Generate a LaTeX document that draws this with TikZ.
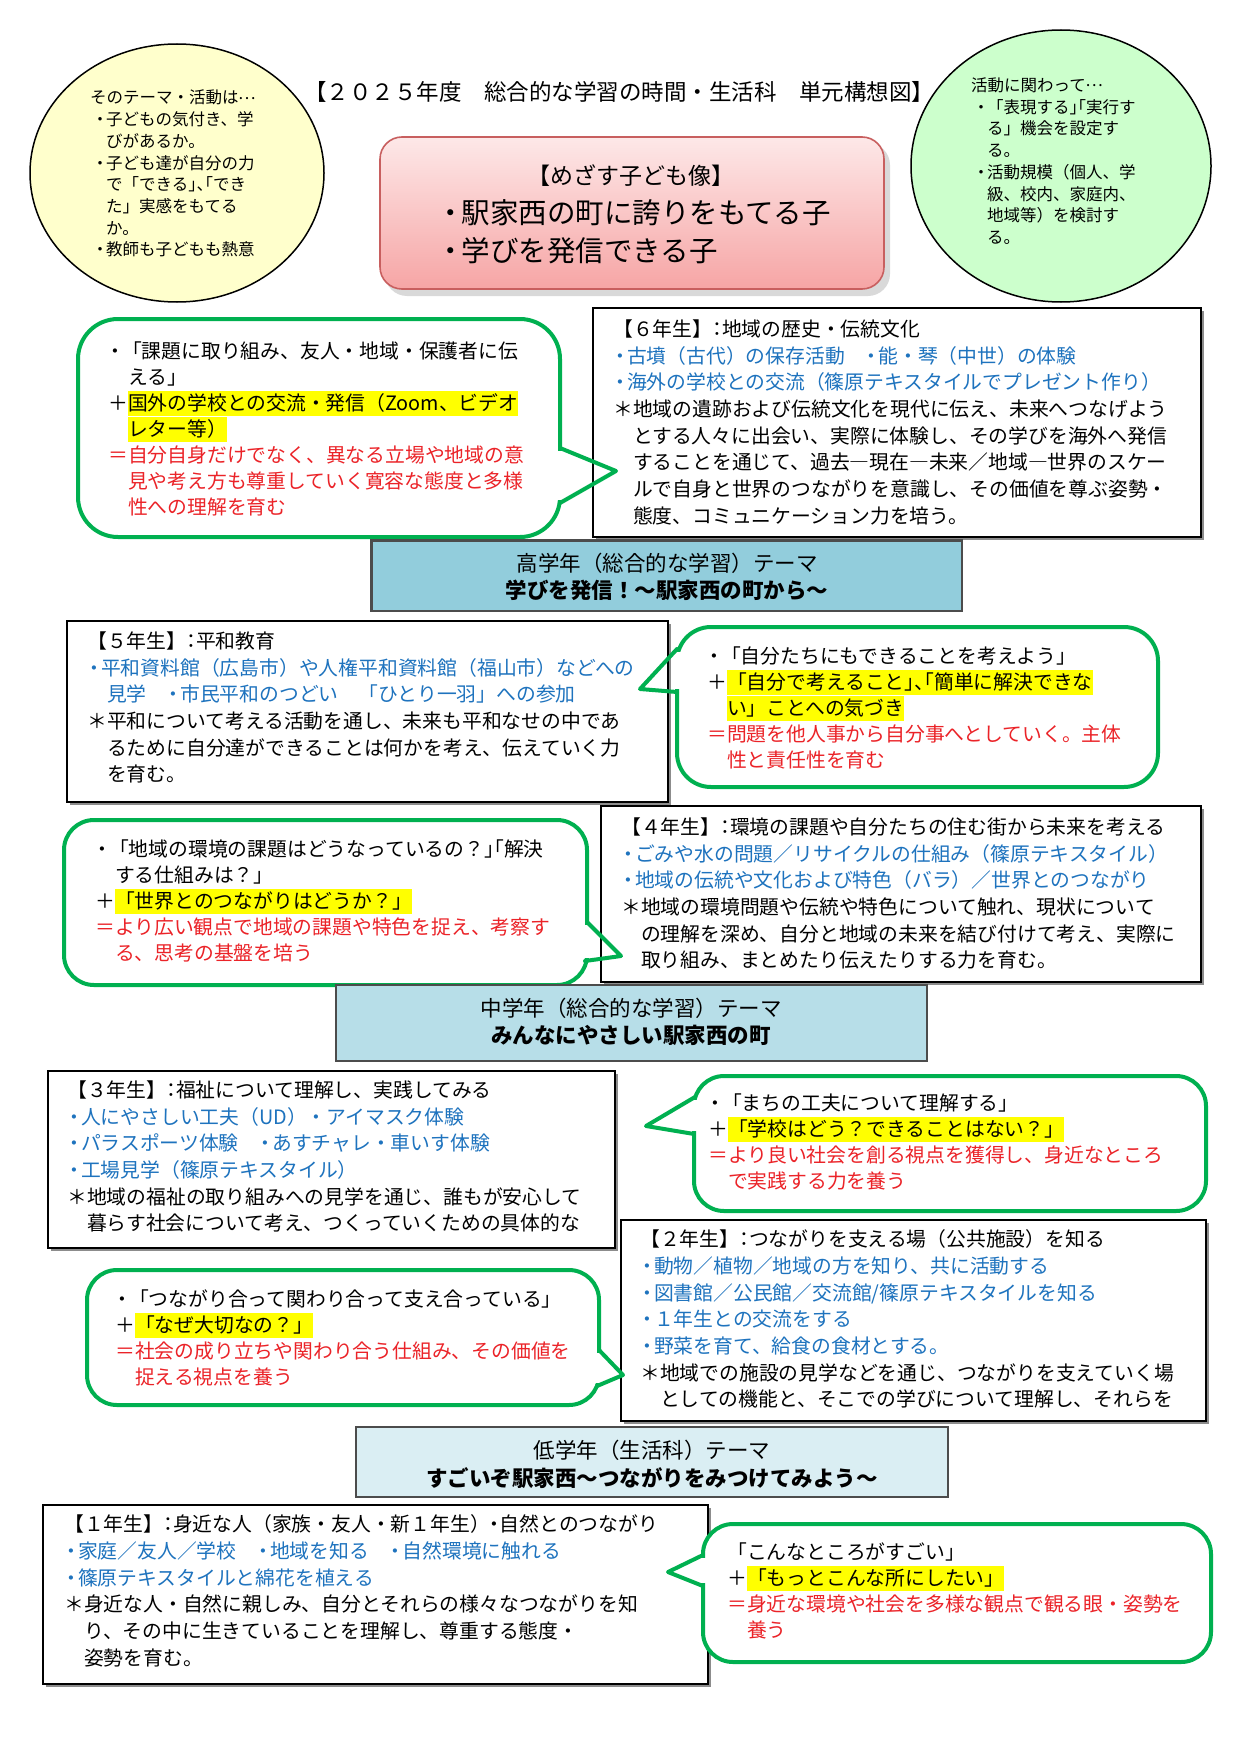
\documentclass[tikz,border=0pt]{standalone}
\usepackage{fontspec}
\setmainfont{Noto Sans CJK JP}
\newfontfamily\haltfam[RawFeature=+halt]{Noto Sans CJK JP}
\definecolor{tblue}{RGB}{30,115,190}
\definecolor{tred}{RGB}{235,35,40}
\definecolor{hlyellow}{RGB}{255,255,0}
\definecolor{bgreen}{RGB}{0,176,80}
\definecolor{ellY}{RGB}{255,255,204}
\definecolor{ellG}{RGB}{204,255,204}
\definecolor{themeA}{RGB}{146,205,220}
\definecolor{themeB}{RGB}{183,222,232}
\definecolor{themeC}{RGB}{218,238,243}
\definecolor{pinkT}{RGB}{253,232,232}
\definecolor{pinkB}{RGB}{246,165,165}
\definecolor{pinkE}{RGB}{200,95,95}
\newcommand{\bluet}[1]{\textcolor{tblue}{#1}}
\newcommand{\redt}[1]{\textcolor{tred}{#1}}
\newcommand{\markhl}[1]{{\setlength{\fboxsep}{0pt}\colorbox{hlyellow}{\rule[-5.5pt]{0pt}{25pt}#1}}}
\newcommand{\bult}{\makebox[0.7em][c]{・}}
\newcommand{\indt}{\hspace*{1em}}
\newcommand{\eb}{\hspace*{4pt}\makebox[12pt][c]{・}}
\newcommand{\ei}{\hspace*{16pt}}
\newcommand{\hp}[1]{{\haltfam #1}}
\newcommand{\midell}{\makebox[1em][c]{\raisebox{0.3em}{…}}}
\tikzset{
  boxtxt/.style={anchor=north west, inner sep=0pt, align=left, font=\fontsize{19.8}{26.7}\selectfont},
  bubtxt/.style={anchor=north west, inner sep=0pt, align=left, font=\fontsize{19.8}{26}\selectfont},
  elltxt/.style={anchor=north west, inner sep=0pt, align=left, font=\fontsize{16.5}{21.7}\selectfont},
  gradebox/.style={draw=black, line width=1.3pt, fill=white},
  boxshadow/.style={fill=black!45},
  themebox/.style={draw=black!70, line width=2.5pt},
  bubble/.style={draw=bgreen, line width=4pt, fill=white, rounded corners=30pt},
  tailpatch/.style={fill=white},
  tail/.style={draw=bgreen, line width=4pt, line cap=round, line join=round},
  themetxt/.style={font=\fontsize{21.5}{26}\selectfont, inner sep=0pt},
  ellipsebox/.style={draw=black, line width=1.5pt},
}
\begin{document}
\begin{tikzpicture}[x=1pt,y=-1pt]
\useasboundingbox (0,0) rectangle (1241,1755);
\fill[white] (0,0) rectangle (1241,1755);

% ellipses
\draw[ellipsebox, fill=ellY] (177,173) ellipse [x radius=147, y radius=129];
\draw[ellipsebox, fill=ellG] (1061,166) ellipse [x radius=150, y radius=136];

% goal box
\fill[black, opacity=0.15, rounded corners=22pt] (385,143) rectangle (890,296);
\draw[draw=pinkE, line width=1.6pt, rounded corners=22pt, top color=pinkT, bottom color=pinkB] (380,137) rectangle (884,289);

% grade boxes
\fill[boxshadow] (596,311) rectangle (1204,540);
\draw[gradebox] (593,308) rectangle (1201,537);
\fill[boxshadow] (70,624) rectangle (671,805);
\draw[gradebox] (67,621) rectangle (668,802);
\fill[boxshadow] (604,809) rectangle (1204,985);
\draw[gradebox] (601,806) rectangle (1201,982);
\fill[boxshadow] (51,1074) rectangle (618,1251);
\draw[gradebox] (48,1071) rectangle (615,1248);
\fill[boxshadow] (624,1223) rectangle (1209,1424);
\draw[gradebox] (621,1220) rectangle (1206,1421);
\fill[boxshadow] (46,1508) rectangle (711,1687);
\draw[gradebox] (43,1505) rectangle (708,1684);

% bubble A (6th grade)
\draw[bubble, rounded corners=40pt] (78,319) rectangle (560,537);
\fill[tailpatch] (552,451) rectangle (565,500);
\draw[tail] (560,448) -- (616,471) -- (560,503);
% bubble B (5th grade)
\draw[bubble, rounded corners=34pt] (677,627) rectangle (1158,787);
\fill[tailpatch] (672,652) rectangle (685,689);
\draw[tail] (677,649) -- (640,689) -- (677,692);
% bubble C (4th grade)
\draw[bubble] (64,820) rectangle (587,985);
\fill[tailpatch] (579,925) rectangle (592,958);
\draw[tail] (587,922) -- (621,956) -- (585,961);
% bubble D (3rd grade)
\draw[bubble] (694,1076) rectangle (1206,1211);
\fill[tailpatch] (689,1100) rectangle (702,1131);
\draw[tail] (695,1097) -- (646,1126) -- (694,1134);
% bubble E (2nd grade)
\draw[bubble] (87,1270) rectangle (599,1405);
\fill[tailpatch] (589,1353) rectangle (604,1383);
\draw[tail] (599,1350) -- (623,1375) -- (597,1386);
% bubble F (1st grade)
\draw[bubble] (703,1524) rectangle (1211,1662);
\fill[tailpatch] (698,1558) rectangle (711,1583);
\draw[tail] (703,1555) -- (668,1572) -- (703,1586);

% theme boxes
\draw[themebox, fill=themeA] (371.5,540.5) rectangle (962,611);
\draw[themebox, fill=themeB] (336,985) rectangle (927,1061);
\draw[themebox, fill=themeC] (356,1427) rectangle (948,1497);

% ---- texts ----
\node[font=\fontsize{22.5}{26}\selectfont, inner sep=0pt] (title) at (619,92) {【２０２５年度　総合的な学習の時間・生活科　単元構想図】};

\node[elltxt] (ytxt) at (90,90) {そのテーマ・活動は\midell\\
\eb 子どもの気付き、学\\
\ei びがあるか。\\
\eb 子ども達が自分の力\\
\ei で「できる\hp{」、「}でき\\
\ei た」実感をもてる\\
\ei か。\\
\eb 教師も子どもも熱意};

\node[elltxt] (gtxt) at (971,77.6) {活動に関わって\midell\\
\eb「表現する\hp{」「}実行す\\
\ei る」機会を設定す\\
\ei る。\\
\eb 活動規模（個人、学\\
\ei 級、校内、家庭内、\\
\ei 地域等）を検討す\\
\ei る。};

\node[font=\fontsize{23}{28}\selectfont, inner sep=0pt] (goal1) at (631,176) {【めざす子ども像】};
\node[font=\fontsize{28.5}{34}\selectfont, inner sep=0pt, anchor=west] (goal2) at (440,213) {\makebox[0.75em][c]{・}駅家西の町に誇りをもてる子};
\node[font=\fontsize{28.5}{34}\selectfont, inner sep=0pt, anchor=west] (goal3) at (440,251) {\makebox[0.75em][c]{・}学びを発信できる子};

\node[boxtxt] (g6) at (613,319.5) {【６年生】\hp{：}地域の歴史・伝統文化\\
\bluet{\bult 古墳（古代）の保存活動　\bult 能・琴（中世）の体験}\\
\bluet{\bult 海外の学校との交流（篠原テキスタイルでプレゼント作り）}\\
＊地域の遺跡および伝統文化を現代に伝え、未来へつなげよう\\
\indt とする人々に出会い、実際に体験し、その学びを海外へ発信\\
\indt することを通じて、過去―現在―未来／地域―世界のスケー\\
\indt ルで自身と世界のつながりを意識し、その価値を尊ぶ姿勢・\\
\indt 態度、コミュニケーション力を培う。};

\node[bubtxt] (bA) at (108,342) {\bult「課題に取り組み、友人・地域・保護者に伝\\
\indt える」\\
＋\markhl{国外の学校との交流・発信（Zoom、ビデオ}\\
\indt\markhl{レター等）}\\
\redt{＝自分自身だけでなく、異なる立場や地域の意}\\
\redt{\indt 見や考え方も尊重していく寛容な態度と多様}\\
\redt{\indt 性への理解を育む}};

\node[themetxt] (thA1) at (667,563) {高学年（総合的な学習）テーマ};
\node[themetxt, font=\fontsize{21.5}{26}\selectfont\bfseries] (thA2) at (667,590) {学びを発信！～駅家西の町から～};

\node[boxtxt] (g5) at (87,631.5) {【５年生】\hp{：}平和教育\\
\bluet{\bult 平和資料館（広島市）や人権平和資料館（福山市）などへの}\\
\bluet{\indt 見学　\bult 市民平和のつどい　「ひとり一羽」への参加}\\
＊平和について考える活動を通し、未来も平和なせの中であ\\
\indt るために自分達ができることは何かを考え、伝えていく力\\
\indt を育む。};

\node[bubtxt] (bB) at (707,647) {\bult「自分たちにもできることを考えよう」\\
＋\markhl{「自分で考えること\hp{」、「}簡単に解決できな}\\
\indt\markhl{い」ことへの気づき}\\
\redt{＝問題を他人事から自分事へとしていく。主体}\\
\redt{\indt 性と責任性を育む}};

\node[boxtxt] (g4) at (621,817.5) {【４年生】\hp{：}環境の課題や自分たちの住む街から未来を考える\\
\bluet{\bult ごみや水の問題／リサイクルの仕組み（篠原テキスタイル）}\\
\bluet{\bult 地域の伝統や文化および特色（バラ）／世界とのつながり}\\
＊地域の環境問題や伝統や特色について触れ、現状について\\
\indt の理解を深め、自分と地域の未来を結び付けて考え、実際に\\
\indt 取り組み、まとめたり伝えたりする力を育む。};

\node[bubtxt] (bC) at (95,840) {\bult「地域の環境の課題はどうなっているの？\hp{」「}解決\\
\indt する仕組みは？」\\
＋\markhl{「世界とのつながりはどうか？」}\\
\redt{＝より広い観点で地域の課題や特色を捉え、考察す}\\
\redt{\indt る、思考の基盤を培う}};

\node[themetxt] (thB1) at (631,1008) {中学年（総合的な学習）テーマ};
\node[themetxt, font=\fontsize{21.5}{26}\selectfont\bfseries] (thB2) at (631,1035) {みんなにやさしい駅家西の町};

\node[boxtxt] (g3) at (67,1080.5) {【３年生】\hp{：}福祉について理解し、実践してみる\\
\bluet{\bult 人にやさしい工夫（UD）・アイマスク体験}\\
\bluet{\bult パラスポーツ体験　\bult あすチャレ・車いす体験}\\
\bluet{\bult 工場見学（篠原テキスタイル）}\\
＊地域の福祉の取り組みへの見学を通じ、誰もが安心して\\
\indt 暮らす社会について考え、つくっていくための具体的な};

\node[bubtxt] (bD) at (708,1094) {\bult「まちの工夫について理解する」\\
＋\markhl{「学校はどう？できることはない？」}\\
\redt{＝より良い社会を創る視点を獲得し、身近なところ}\\
\redt{\indt で実践する力を養う}};

\node[boxtxt] (g2) at (640,1229.5) {【２年生】\hp{：}つながりを支える場（公共施設）を知る\\
\bluet{\bult 動物／植物／地域の方を知り、共に活動する}\\
\bluet{\bult 図書館／公民館／交流館/篠原テキスタイルを知る}\\
\bluet{\bult １年生との交流をする}\\
\bluet{\bult 野菜を育て、給食の食材とする。}\\
＊地域での施設の見学などを通じ、つながりを支えていく場\\
\indt としての機能と、そこでの学びについて理解し、それらを};

\node[bubtxt] (bE) at (115,1290) {\bult「つながり合って関わり合って支え合っている」\\
＋\markhl{「なぜ大切なの？」}\\
\redt{＝社会の成り立ちや関わり合う仕組み、その価値を}\\
\redt{\indt 捉える視点を養う}};

\node[themetxt] (thC1) at (652,1450) {低学年（生活科）テーマ};
\node[themetxt, font=\fontsize{21.5}{26}\selectfont\bfseries] (thC2) at (652,1478) {すごいぞ駅家西～つながりをみつけてみよう～};

\node[boxtxt] (g1) at (64,1514.5) {【１年生】\hp{：}身近な人（家族・友人・新１年生）\hp{・}自然とのつながり\\
\bluet{\bult 家庭／友人／学校　\bult 地域を知る　\bult 自然環境に触れる}\\
\bluet{\bult 篠原テキスタイルと綿花を植える}\\
＊身近な人・自然に親しみ、自分とそれらの様々なつながりを知\\
\indt り、その中に生きていることを理解し、尊重する態度・\\
\indt 姿勢を育む。};

\node[bubtxt] (bF) at (727,1543) {「こんなところがすごい」\\
＋\markhl{「もっとこんな所にしたい」}\\
\redt{＝身近な環境や社会を多様な観点で観る眼・姿勢を}\\
\redt{\indt 養う}};

\end{tikzpicture}
\end{document}
